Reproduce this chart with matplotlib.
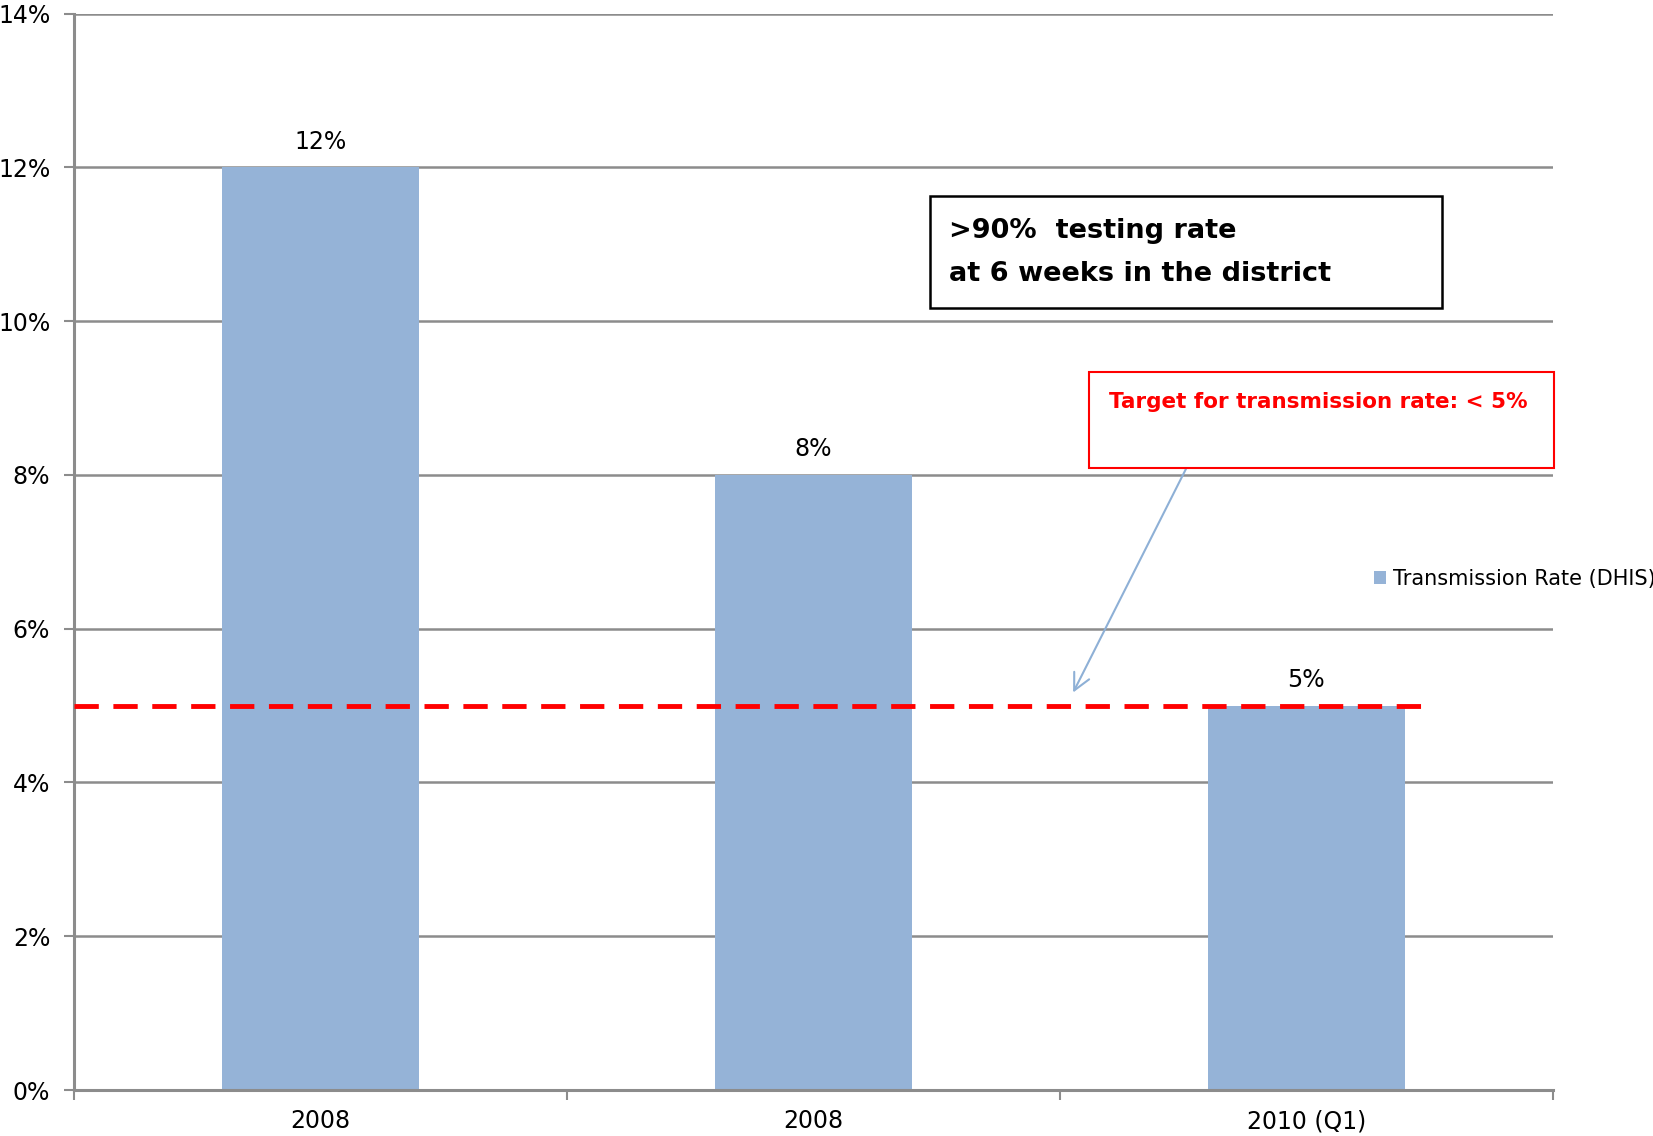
import matplotlib
matplotlib.use("Agg")
import matplotlib.pyplot as plt
from matplotlib.ticker import PercentFormatter, FixedLocator
from matplotlib.patches import Rectangle

categories = ["2008", "2008", "2010 (Q1)"]
values = [12, 8, 5]
target = 5
series_name = "Transmission Rate (DHIS)"

W, H = 1653, 1136
fig = plt.figure(figsize=(W / 100, H / 100), dpi=100)
ax = fig.add_axes([73.8 / W, 1 - 1090 / H, (1552.8 - 73.8) / W, (1090 - 13.7) / H])

font = "DejaVu Sans"
bar_color = "#95B3D7"
grid_color = "#8C8C8C"

x = list(range(len(categories)))
ax.bar(x, values, width=0.4, color=bar_color, label=series_name, zorder=2)
for xi, v in zip(x, values):
    ax.annotate(f"{v}%", (xi, v), xytext=(0, 10), textcoords="offset points",
                ha="center", va="bottom", fontsize=17, family=font)

ax.set_xlim(-0.5, 2.5)
ax.set_ylim(0, 14)
ax.set_yticks(range(0, 15, 2))
ax.yaxis.set_major_formatter(PercentFormatter(decimals=0))
ax.set_xticks(x)
ax.set_xticklabels(categories, fontsize=17, family=font)
ax.xaxis.set_minor_locator(FixedLocator([-0.5, 0.5, 1.5, 2.5]))
ax.tick_params(axis="x", which="major", length=0, pad=14)
ax.tick_params(axis="x", which="minor", length=7, width=1.5, color=grid_color)
ax.tick_params(axis="y", length=7, width=1.5, color=grid_color, labelsize=17, pad=10)
for lab in ax.get_yticklabels():
    lab.set_family(font)

ax.grid(axis="y", color=grid_color, linewidth=1.8, zorder=0)
ax.set_axisbelow(True)
for s in ["top", "right"]:
    ax.spines[s].set_visible(False)
for s in ["left", "bottom"]:
    ax.spines[s].set_color(grid_color)
    ax.spines[s].set_linewidth(2.2)

# target line
ax.plot([-0.5, 2.243], [target, target], color="#FF0000", linestyle=(0, (5, 3)),
        linewidth=3.5, zorder=3)

# black annotation box
ax.add_patch(Rectangle((1.236, 10.17), 2.275 - 1.236, 11.63 - 10.17, facecolor="white",
                       edgecolor="black", linewidth=1.8, zorder=5))
ax.text(1.275, 10.89, ">90%  testing rate\nat 6 weeks in the district",
        fontsize=19.5, fontweight="bold", family=font, ha="left", va="center",
        linespacing=1.85, color="black", zorder=6)

# red annotation box
ax.add_patch(Rectangle((1.559, 8.09), 2.502 - 1.559, 9.34 - 8.09, facecolor="white",
                       edgecolor="#FF0000", linewidth=1.5, zorder=5, clip_on=False))
ax.text(2.025, 8.95, "Target for transmission rate: < 5%", fontsize=15.5, fontweight="bold",
        family=font, color="#FF0000", ha="center", va="center", zorder=6, clip_on=False)

ax.annotate("", xy=(1.527, 5.17), xytext=(1.756, 8.08),
            arrowprops=dict(arrowstyle="->", color="#8EB0D6", linewidth=1.5,
                            mutation_scale=30, shrinkA=0, shrinkB=0), zorder=4)

ax.legend(loc="center left", bbox_to_anchor=(0.879, 0.475), frameon=False,
          handlelength=0.6, handleheight=0.6, handletextpad=0.3,
          borderaxespad=0, borderpad=0, prop={"family": font, "size": 15})

fig.savefig("out.png", dpi=100, facecolor="white")
